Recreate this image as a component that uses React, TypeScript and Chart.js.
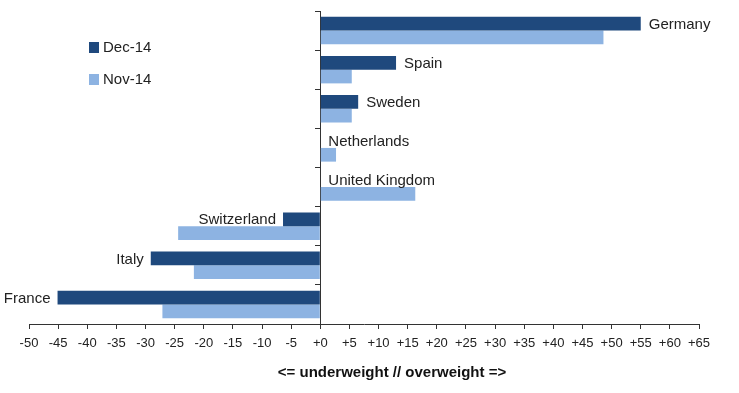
import React, { useEffect, useRef } from "react";
import { Chart, registerables } from "chart.js";
Chart.register(...registerables);

const countries = ["Germany", "Spain", "Sweden", "Netherlands", "United Kingdom", "Switzerland", "Italy", "France"];
const dec14 = [55, 13, 6.5, 0, 0, -6.4, -29.1, -45.1];
const nov14 = [48.6, 5.4, 5.4, 2.7, 16.3, -24.4, -21.7, -27.1];
const seriesNames = ["Dec-14", "Nov-14"];
const seriesColors = ["#1F497D", "#8DB3E2"];
const xMin = -50;
const xMax = 65;
const xStep = 5;
const axisTitle = "<= underweight // overweight =>";

const FONT = "'Liberation Sans', Arial, sans-serif";

const labelPlugin = {
  id: "barLabels",
  afterDatasetsDraw(chart: any) {
    const ctx = chart.ctx;
    const meta = chart.getDatasetMeta(0);
    ctx.save();
    ctx.font = `15px ${FONT}`;
    ctx.fillStyle = "#222";
    ctx.textBaseline = "middle";
    meta.data.forEach((el: any, i: number) => {
      const v = dec14[i];
      if (v >= 0) {
        ctx.textAlign = "left";
        ctx.fillText(countries[i], el.x + 8, el.y + 1);
      } else {
        ctx.textAlign = "right";
        ctx.fillText(countries[i], el.x - 7, el.y + 1);
      }
    });
    ctx.restore();
  },
  afterDraw(chart: any) {
    const ctx = chart.ctx;
    ctx.save();
    // legend
    ctx.font = `15px ${FONT}`;
    ctx.textBaseline = "middle";
    ctx.textAlign = "left";
    const legendY = [47, 79];
    seriesNames.forEach((name, i) => {
      ctx.fillStyle = seriesColors[i];
      ctx.fillRect(89, legendY[i] - 5, 10, 11);
      ctx.fillStyle = "#222";
      ctx.fillText(name, 103, legendY[i] + 1);
    });
    // axis title
    ctx.font = `bold 15px ${FONT}`;
    ctx.textAlign = "center";
    ctx.fillStyle = "#111";
    ctx.fillText(axisTitle, 392, 373);
    ctx.restore();
  },
};

export default function App() {
  const ref = useRef<HTMLCanvasElement>(null);
  useEffect(() => {
    document.body.style.margin = "0";
    Chart.defaults.font.family = FONT;
    const chart = new Chart(ref.current as HTMLCanvasElement, {
      type: "bar",
      data: {
        labels: countries,
        datasets: [
          { label: seriesNames[0], data: dec14, backgroundColor: seriesColors[0], categoryPercentage: 0.7, barPercentage: 1 },
          { label: seriesNames[1], data: nov14, backgroundColor: seriesColors[1], categoryPercentage: 0.7, barPercentage: 1 },
        ],
      },
      options: {
        indexAxis: "y",
        animation: false,
        responsive: false,
        layout: { padding: { left: 29, right: 40, top: 11, bottom: 0 } },
        plugins: { legend: { display: false }, tooltip: { enabled: false } },
        scales: {
          x: {
            type: "linear",
            min: xMin,
            max: xMax,
            afterFit(scale: any) {
              scale.height = 69;
            },
            ticks: {
              stepSize: xStep,
              color: "#222",
              font: { size: 13, family: FONT },
              padding: 7,
              maxRotation: 0,
              autoSkip: false,
              callback: (v: any) => (Number(v) >= 0 ? "+" + v : String(v)),
            },
            grid: { display: true, drawOnChartArea: false, tickLength: 5, color: "#333" },
            border: { display: true, color: "#333" },
          },
          y: {
            type: "category",
            position: { x: 0 } as any,
            ticks: { display: false },
            grid: { display: true, drawOnChartArea: false, tickLength: 5, color: "#333", offset: true },
            border: { display: true, color: "#333" },
          },
        },
      },
      plugins: [labelPlugin],
    } as any);
    return () => chart.destroy();
  }, []);
  return (
    <div style={{ width: 739, height: 393 }}>
      <canvas ref={ref} width={739} height={393} />
    </div>
  );
}
